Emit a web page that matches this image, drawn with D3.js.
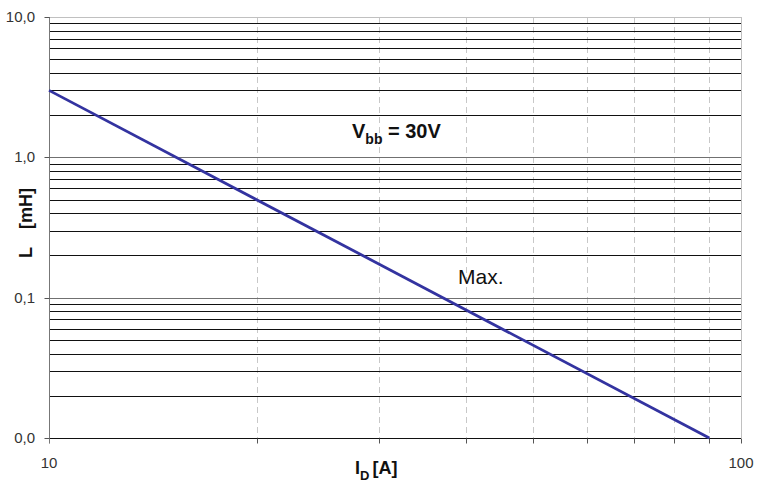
<!DOCTYPE html>
<html>
<head>
<meta charset="utf-8">
<script src="https://cdn.jsdelivr.net/npm/d3@7"></script>
<style>
  body { margin: 0; background: #fff; }
  svg { display: block; font-family: "Liberation Sans", Arial, sans-serif; }
</style>
</head>
<body>
<svg width="757" height="482"></svg>
<script>
// curve: straight line on log-log axes
var currentA = [10, 90],
    inductanceMH = [3.0, 0.01],
    xTickLabels = [{v: 10, t: "10"}, {v: 100, t: "100"}],
    yTickLabels = [{v: 0.01, t: "0,0"}, {v: 0.1, t: "0,1"}, {v: 1, t: "1,0"}, {v: 10, t: "10,0"}];

var margin = {top: 17, right: 16, bottom: 44, left: 49},
    svg = d3.select("svg"),
    width = 757 - margin.left - margin.right,
    height = 482 - margin.top - margin.bottom;

var x = d3.scaleLog().domain([10, 100]).range([0, width]),
    y = d3.scaleLog().domain([0.01, 10]).range([height, 0]);

var g = svg.append("g")
    .attr("transform", "translate(" + margin.left + "," + margin.top + ")");

function px(v) { return Math.round(v) + 0.5; }

// minor values for grid
var xMinor = d3.range(20, 100, 10);
var yMinor = [];
[0.01, 0.1, 1].forEach(function(d) {
  for (var k = 2; k <= 9; k++) yMinor.push(d * k);
});

// vertical dashed grid
g.selectAll(".vgrid")
    .data(xMinor)
    .enter().append("line")
    .attr("x1", function(d) { return px(x(d)); })
    .attr("x2", function(d) { return px(x(d)); })
    .attr("y1", 0)
    .attr("y2", height)
    .attr("stroke", "#c8c8c8")
    .attr("stroke-dasharray", "6,4");

// horizontal grid
g.selectAll(".hgrid")
    .data(yMinor.concat([0.1, 1]))
    .enter().append("line")
    .attr("x1", 0)
    .attr("x2", width)
    .attr("y1", function(d) { return px(y(d)); })
    .attr("y2", function(d) { return px(y(d)); })
    .attr("stroke", function(d) { return (d === 0.1 || d === 1) ? "#707070" : "#111"; });

// frame: top and right light gray
g.append("line").attr("x1", 0).attr("x2", width).attr("y1", 0.5).attr("y2", 0.5).attr("stroke", "#c0c0c0");
g.append("line").attr("x1", px(width)).attr("x2", px(width)).attr("y1", 0).attr("y2", height).attr("stroke", "#c0c0c0");

// bottom axis
var xAxis = g.append("g")
    .attr("transform", "translate(0," + px(height) + ")")
    .call(d3.axisBottom(x).tickValues([10].concat(xMinor, [100])).tickSize(5).tickFormat(""));
xAxis.select(".domain").attr("stroke", "#111").attr("d", "M0,0H" + width);
xAxis.selectAll(".tick line").attr("stroke", "#555");
xAxis.selectAll(".tick").attr("transform", function(d) { return "translate(" + px(x(d)) + ",0)"; });

g.selectAll(".xlab")
    .data(xTickLabels)
    .enter().append("text")
    .attr("x", function(d) { return x(d.v); })
    .attr("y", height + 30)
    .attr("text-anchor", "middle")
    .attr("fill", "#333")
    .style("font-size", "15px")
    .text(function(d) { return d.t; });

// left axis
var yAxis = g.append("g")
    .attr("transform", "translate(0.5,0)")
    .call(d3.axisLeft(y).tickValues(yTickLabels.map(function(d) { return d.v; })).tickSize(5).tickFormat(""));
yAxis.select(".domain").attr("stroke", "#777").attr("d", "M0,0V" + (height + 5));
yAxis.selectAll(".tick line").attr("stroke", "#555");
yAxis.selectAll(".tick").attr("transform", function(d) { return "translate(0," + px(y(d)) + ")"; });

g.selectAll(".ylab")
    .data(yTickLabels)
    .enter().append("text")
    .attr("x", -14)
    .attr("y", function(d) { return y(d.v) + 5; })
    .attr("text-anchor", "end")
    .attr("fill", "#333")
    .style("font-size", "15px")
    .text(function(d) { return d.t; });

// the curve
var line = d3.line()
    .x(function(d) { return x(d[0]); })
    .y(function(d) { return y(d[1]); });

g.append("path")
    .datum(d3.zip(currentA, inductanceMH))
    .attr("d", line)
    .attr("fill", "none")
    .attr("stroke", "#3333a0")
    .attr("stroke-width", 2.8);

// annotations
var vbb = svg.append("text")
    .attr("x", 352)
    .attr("y", 138)
    .style("font-size", "20px")
    .style("font-weight", "bold")
    .attr("fill", "#111");
vbb.append("tspan").text("V");
vbb.append("tspan").attr("dy", 6).style("font-size", "14px").text("bb");
vbb.append("tspan").attr("dy", -6).text(" = 30V");

svg.append("text")
    .attr("x", 458)
    .attr("y", 284)
    .style("font-size", "21px")
    .attr("fill", "#111")
    .text("Max.");

// axis titles
var xt = svg.append("text")
    .attr("x", 355)
    .attr("y", 474)
    .style("font-size", "18px")
    .style("font-weight", "bold")
    .attr("fill", "#111");
xt.append("tspan").text("I");
xt.append("tspan").attr("dy", 6).style("font-size", "13px").text("D");
xt.append("tspan").attr("dy", -6).attr("dx", 3).text("[A]");

var yt = svg.append("text")
    .attr("transform", "translate(32,258) rotate(-90)")
    .style("font-size", "18px")
    .style("font-weight", "bold")
    .attr("fill", "#111");
yt.append("tspan").text("L");
yt.append("tspan").attr("dx", 18).text("[mH]");
</script>
</body>
</html>
